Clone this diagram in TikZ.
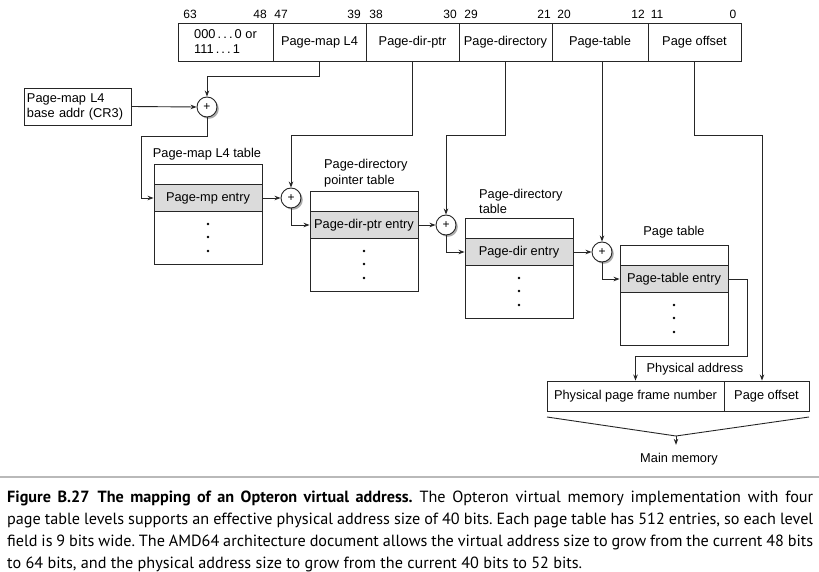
\documentclass[tikz,border=0pt]{standalone}
\usepackage{fontspec}
\setmainfont{Liberation Sans}
\newfontfamily\capfont{PT Sans}
\usetikzlibrary{arrows.meta,shadows,calc}
\begin{document}
\begin{tikzpicture}[x=1pt,y=-1pt,
  every node/.style={font=\fontsize{12.8}{15}\selectfont, inner sep=0pt},
  ln/.style={draw=black!85, line width=0.9pt},
  arr/.style={ln, -{Stealth[length=6pt,width=4.5pt]}},
  boxed/.style={draw=black!85, line width=0.9pt, align=center},
  field/.style={boxed, minimum height=38pt},
  tbl/.style={boxed, minimum width=108pt, minimum height=100pt},
  entry/.style={boxed, fill=gray!28, minimum width=108pt, minimum height=27pt},
  adder/.style={circle, draw=black!85, line width=0.9pt, fill=white, minimum size=20pt,
    font=\fontsize{12}{12}\selectfont,
    drop shadow={shadow xshift=1.8pt, shadow yshift=-1.8pt, fill=gray!65, opacity=1}},
  bit/.style={font=\fontsize{12}{12}\selectfont},
  dot/.style={circle, fill=black, minimum size=2.6pt},
]
\useasboundingbox (0,0) rectangle (819,572);
\fill[white] (0,0) rectangle (819,572);

% virtual address fields
\node[field, minimum width=95pt, align=left] (f0) at (225.5,42) {000\,.\,.\,.\,0 or\\111\,.\,.\,.\,1};
\node[field, minimum width=93pt] (f1) at (319.5,42) {Page-map L4};
\node[field, minimum width=93pt] (f2) at (412.5,42) {Page-dir-ptr};
\node[field, minimum width=93pt] (f3) at (505.5,42) {Page-directory};
\node[field, minimum width=96pt] (f4) at (600,42) {Page-table};
\node[field, minimum width=93pt] (f5) at (694.5,42) {Page offset};

% bit numbers
\node[bit] (b63) at (190,14) {63};
\node[bit] (b48) at (260,14) {48};
\node[bit] (b47) at (281,14) {47};
\node[bit] (b39) at (354,14) {39};
\node[bit] (b38) at (376,14) {38};
\node[bit] (b30) at (450,14) {30};
\node[bit] (b29) at (471,14) {29};
\node[bit] (b21) at (544,14) {21};
\node[bit] (b20) at (564,14) {20};
\node[bit] (b12) at (638,14) {12};
\node[bit] (b11) at (657,14) {11};
\node[bit] (b0) at (733,14) {0};

% CR3
\node[boxed, minimum width=107pt, minimum height=37pt, text width=101pt, align=left] (cr3) at (77.5,106.5) {Page-map L4\\base addr (CR3)};

% adders
\node[adder] (a1) at (207,107) {+};
\node[adder] (a2) at (291,198) {+};
\node[adder] (a3) at (446,225) {+};
\node[adder] (a4) at (602,252) {+};

% tables
\node[tbl] (t1) at (208,214) {};
\node[entry] (e1) at (208,198) {Page-mp entry};
\node[tbl] (t2) at (364,241) {};
\node[entry] (e2) at (364,225) {Page-dir-ptr entry};
\node[tbl] (t3) at (519,268) {};
\node[entry] (e3) at (519,252) {Page-dir entry};
\node[tbl] (t4) at (674,295) {};
\node[entry] (e4) at (674,279) {Page-table entry};
\foreach \t in {t1,t2,t3,t4}
  \foreach \d in {10,23,37}
    \node[dot] at ($(\t.center)+(0,\d)$) {};

% table labels
\node (l1) at (207,154) {Page-map L4 table};
\node[anchor=west, align=left, font=\fontsize{12.8}{16}\selectfont] (l2) at (324,173) {Page-directory\\pointer table};
\node[anchor=west, align=left, font=\fontsize{12.8}{15.5}\selectfont] (l3) at (479,201.5) {Page-directory\\table};
\node (l4) at (674,232) {Page table};

% physical address
\node[boxed, minimum width=177pt, minimum height=30pt] (pfn) at (635.5,396) {Physical page frame number};
\node[boxed, minimum width=85pt, minimum height=30pt] (po) at (766.5,396) {Page offset};
\node (pa) at (695,369) {Physical address};
\node (mm) at (679,459) {Main memory};

% connectors
\coordinate (j1) at (207,76);
\coordinate (k1) at (141,136);
\coordinate (j2) at (291,135);
\coordinate (j3) at (446,135);
\coordinate (m1) at (747,356);
\coordinate (m2) at (762,135);
\draw[arr] (f1.south) |- (j1) -- (a1.north);
\draw[arr] (cr3.east) -- (a1.west);
\draw[arr] (a1.south) |- (k1) |- (e1.west);
\draw[arr] (f2.south) |- (j2) -- (a2.north);
\draw[arr] (e1.east) -- (a2.west);
\draw[arr] (a2.south) |- (e2.west);
\draw[arr] (f3.south) |- (j3) -- (a3.north);
\draw[arr] (e2.east) -- (a3.west);
\draw[arr] (a3.south) |- (e3.west);
\draw[arr] (a4.north |- f4.south) -- (a4.north);
\draw[arr] (e3.east) -- (a4.west);
\draw[arr] (a4.south) |- (e4.west);
\draw[arr] (e4.east) -| (m1) -| (pfn.north);
\draw[arr] (f5.south) |- (m2) -- (m2 |- po.north);

% funnel to main memory
\coordinate (fl) at (547,417);
\coordinate (fr) at (809,417);
\coordinate (fm) at (676,436);
\draw[ln] (fl) -- (fm) -- (fr);
\draw[arr, shorten >=8pt] (fm) -- (fm |- mm.north);

% caption
\draw[gray!55, line width=2pt] (0,477) -- (819,477);
\node[anchor=north west, text width=806pt, align=justify,
  font={\capfont\fontsize{16.2}{22}\selectfont}] (cap) at (7,491)
{\frenchspacing\hyphenpenalty=10000 \textbf{Figure B.27\enspace The mapping of an Opteron virtual address.} The Opteron virtual memory implementation with four\linebreak
page table levels supports an effective physical address size of 40 bits. Each page table has 512 entries, so each level\linebreak
field is 9 bits wide. The AMD64 architecture document allows the virtual address size to grow from the current 48 bits\linebreak
to 64 bits, and the physical address size to grow from the current 40 bits to 52 bits.};
\end{tikzpicture}
\end{document}
